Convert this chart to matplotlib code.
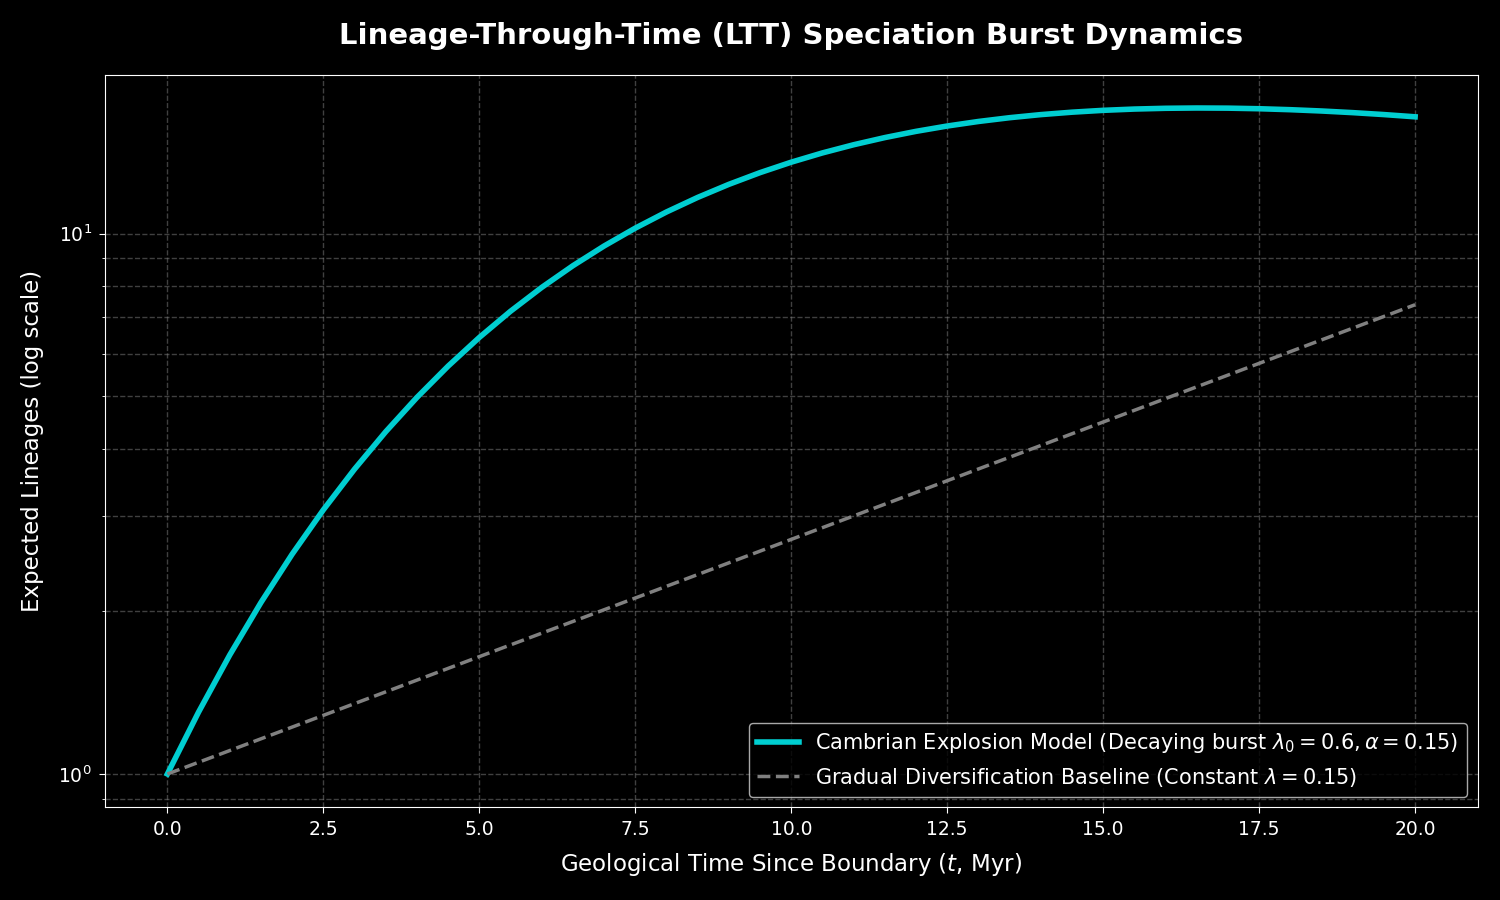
#!/usr/bin/env python
# coding: utf-8

import numpy as np
import matplotlib
matplotlib.use('Agg')
import matplotlib.pyplot as plt

# time axis (Myr) for the burst curve
t_burst = [0.0, 0.5, 1.0, 1.5, 2.0, 2.5, 3.0, 3.5, 4.0, 4.5, 5.0,
           5.5, 6.0, 6.5, 7.0, 7.5, 8.0, 8.5, 9.0, 9.5, 10.0,
           10.5, 11.0, 11.5, 12.0, 12.5, 13.0, 13.5, 14.0, 14.5, 15.0,
           15.5, 16.0, 16.5, 17.0, 17.5, 18.0, 18.5, 19.0, 19.5, 20.0]
n_burst = [1.000, 1.302, 1.661, 2.077, 2.552, 3.083, 3.667, 4.301, 4.977, 5.688, 6.427,
           7.186, 7.954, 8.725, 9.490, 10.241, 10.971, 11.673, 12.342, 12.974, 13.565,
           14.111, 14.611, 15.064, 15.469, 15.825, 16.134, 16.396, 16.613, 16.786, 16.919,
           17.011, 17.067, 17.088, 17.077, 17.035, 16.965, 16.871, 16.754, 16.616, 16.459]

# baseline (straight on log axis)
t_base = [0.0, 2.5, 5.0, 7.5, 10.0, 12.5, 15.0, 17.5, 20.0]
n_base = [1.000, 1.284, 1.649, 2.117, 2.718, 3.490, 4.482, 5.755, 7.389]

plt.style.use('dark_background')
fig, ax = plt.subplots(figsize=(15, 9), dpi=100)
fig.subplots_adjust(left=0.07, right=0.985, top=0.917, bottom=0.103)

ax.plot(t_burst, n_burst, color='#00CED1', linewidth=4,
        label=r'Cambrian Explosion Model (Decaying burst $\lambda_0 = 0.6, \alpha = 0.15$)')
ax.plot(t_base, n_base, color='gray', linestyle='--', linewidth=2.5,
        label=r'Gradual Diversification Baseline (Constant $\lambda = 0.15$)')

ax.set_yscale('log')
ax.grid(True, which='both', linestyle='--', color='gray', alpha=0.5, linewidth=1)

ax.set_title('Lineage-Through-Time (LTT) Speciation Burst Dynamics',
             fontsize=21, fontweight='bold', pad=22)
ax.set_xlabel(r'Geological Time Since Boundary ($t$, Myr)', fontsize=16.5, labelpad=8)
ax.set_ylabel('Expected Lineages (log scale)', fontsize=16.5, labelpad=10)
ax.tick_params(labelsize=13.5, length=4.5, pad=5)

ax.legend(loc='lower right', fontsize=15, facecolor='black', edgecolor='lightgray')

plt.savefig('out.png')
plt.close()
